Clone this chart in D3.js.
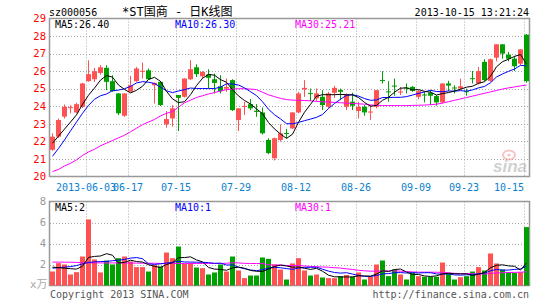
<!DOCTYPE html>
<html>
<head>
<meta charset="utf-8">
<script src="https://cdn.jsdelivr.net/npm/d3@7"></script>
<style>
body { margin: 0; background: #fff; }
svg text { font-family: "DejaVu Sans Mono", monospace; font-size: 10px; }
</style>
</head>
<body>
<svg id="chart" width="545" height="300"></svg>
<script>
// Static data
const dates = [
	'2013-05-24', '2013-05-27', '2013-05-28', '2013-05-29', '2013-05-30', '2013-05-31',
	'2013-06-03', '2013-06-04', '2013-06-05', '2013-06-06', '2013-06-07', '2013-06-13', '2013-06-14',
	'2013-06-17', '2013-06-18', '2013-06-19', '2013-06-20', '2013-06-21', '2013-06-24', '2013-06-25', '2013-06-26',
	'2013-07-15', '2013-07-16', '2013-07-17', '2013-07-18', '2013-07-19', '2013-07-22', '2013-07-23', '2013-07-24', '2013-07-25', '2013-07-26',
	'2013-07-29', '2013-07-30', '2013-07-31', '2013-08-01', '2013-08-02', '2013-08-05', '2013-08-06', '2013-08-07', '2013-08-08', '2013-08-09',
	'2013-08-12', '2013-08-13', '2013-08-14', '2013-08-15', '2013-08-16', '2013-08-19', '2013-08-20', '2013-08-21', '2013-08-22', '2013-08-23',
	'2013-08-26', '2013-08-27', '2013-08-28', '2013-08-29', '2013-08-30', '2013-09-02', '2013-09-03', '2013-09-04', '2013-09-05', '2013-09-06',
	'2013-09-09', '2013-09-10', '2013-09-11', '2013-09-12', '2013-09-13', '2013-09-16', '2013-09-17', '2013-09-18',
	'2013-09-23', '2013-09-24', '2013-09-25', '2013-09-26', '2013-09-27', '2013-09-30',
	'2013-10-09', '2013-10-10', '2013-10-11', '2013-10-14', '2013-10-15'
];

const open = [
	21.52, 22.27, 23.41, 23.90, 23.65, 23.97, 25.43, 25.54, 25.90, 26.19,
	25.43, 24.73, 23.46, 24.82, 25.43, 26.00, 26.05, 25.20, 25.39, 22.97,
	23.31, 24.64, 24.54, 25.54, 26.22, 25.71, 25.81, 25.54, 25.14, 25.00,
	25.49, 23.22, 23.98, 24.12, 23.75, 23.65, 22.08, 21.04, 22.08, 22.48,
	22.74, 23.65, 24.96, 24.75, 24.45, 24.54, 23.97, 24.77, 24.92, 23.97,
	24.26, 23.73, 23.97, 23.66, 23.97, 25.50, 24.85, 25.18, 24.80, 25.07,
	25.11, 24.54, 24.67, 24.77, 24.58, 24.22, 25.30, 25.07, 25.01, 24.86,
	25.60, 25.30, 26.53, 25.45, 26.77, 27.53, 26.94, 26.71, 26.43, 28.08
];
const high = [
	22.46, 23.30, 24.10, 24.05, 24.20, 25.33, 26.62, 26.19, 26.34, 26.34,
	25.77, 24.75, 24.75, 25.73, 26.24, 26.49, 26.15, 25.35, 25.43, 23.73,
	24.07, 24.64, 25.60, 26.62, 26.39, 26.00, 26.11, 25.86, 25.77, 25.58,
	25.54, 23.90, 24.26, 24.41, 24.12, 23.93, 22.18, 22.22, 22.97, 22.71,
	23.66, 24.82, 25.49, 25.01, 25.01, 24.92, 24.82, 25.16, 25.01, 24.73,
	24.77, 24.26, 24.07, 24.07, 24.92, 26.00, 25.43, 25.58, 25.10, 25.30,
	25.15, 24.92, 24.82, 24.92, 24.64, 25.30, 25.45, 25.20, 25.58, 25.00,
	26.01, 26.24, 26.68, 26.72, 27.53, 27.55, 27.10, 26.87, 27.24, 28.11
];
const low = [
	21.46, 22.20, 23.30, 23.60, 23.60, 23.90, 25.40, 25.39, 25.80, 24.92,
	24.82, 23.50, 23.40, 24.82, 25.39, 25.58, 25.52, 24.16, 24.01, 22.78,
	22.84, 22.59, 24.50, 25.49, 25.67, 25.58, 25.01, 24.73, 24.73, 24.82,
	23.73, 22.59, 23.50, 23.78, 23.40, 22.40, 21.27, 20.91, 21.99, 22.18,
	22.70, 23.60, 24.54, 24.30, 24.30, 23.78, 23.90, 24.48, 24.35, 23.78,
	23.78, 23.31, 23.46, 23.22, 23.88, 25.30, 24.26, 24.60, 24.64, 24.73,
	24.82, 24.41, 24.22, 24.07, 24.03, 24.16, 24.86, 24.73, 24.92, 24.60,
	25.30, 25.24, 25.43, 25.39, 26.56, 26.71, 26.56, 26.01, 26.34, 25.35
];
const close = [
	22.27, 23.22, 23.97, 23.95, 24.12, 25.30, 25.83, 26.00, 26.22, 25.39,
	24.86, 23.60, 24.73, 25.20, 26.15, 26.02, 25.54, 25.33, 24.07, 23.27,
	23.88, 24.48, 25.58, 26.11, 25.83, 25.96, 25.62, 25.33, 24.86, 25.10,
	23.78, 23.88, 24.02, 23.88, 23.68, 22.46, 21.33, 22.18, 22.46, 22.42,
	23.65, 24.73, 25.05, 24.70, 24.73, 24.07, 24.73, 25.05, 24.82, 24.64,
	24.03, 23.97, 23.65, 23.70, 24.92, 25.46, 24.80, 25.12, 24.84, 25.03,
	24.88, 24.86, 24.62, 24.60, 24.22, 25.30, 25.18, 25.03, 25.14, 24.80,
	25.55, 26.01, 25.49, 26.68, 27.53, 27.00, 26.71, 26.28, 27.24, 25.43
];

// volume in 万
const volume = [
	1.33, 2.13, 2.00, 1.05, 1.27, 2.76, 6.29, 2.48, 1.24, 2.38,
	2.00, 2.60, 2.76, 2.29, 1.75, 1.75, 1.33, 1.97, 1.81, 3.14,
	2.60, 3.71, 2.06, 2.13, 1.71, 1.65, 1.05, 1.24, 2.00, 1.33,
	2.76, 1.43, 0.70, 0.95, 0.95, 2.67, 2.54, 2.00, 1.52, 0.57,
	2.10, 2.60, 1.43, 0.95, 1.05, 0.76, 0.70, 0.70, 0.89, 1.00,
	0.83, 1.24, 0.57, 0.83, 2.00, 2.38, 0.89, 1.52, 1.05, 0.57,
	1.20, 0.89, 0.83, 0.83, 0.83, 2.19, 1.17, 0.57, 0.79, 0.89,
	1.33, 1.75, 1.43, 3.05, 2.10, 1.52, 1.27, 1.20, 1.27, 5.56
];

const ma5 = [
	21.90, 22.30, 22.70, 23.10, 23.51, 24.11, 24.63, 25.04, 25.49, 25.75,
	25.66, 25.21, 24.96, 24.76, 24.91, 25.14, 25.53, 25.65, 25.42, 24.85,
	24.42, 24.21, 24.26, 24.66, 25.18, 25.59, 25.82, 25.77, 25.52, 25.37,
	24.94, 24.59, 24.33, 24.13, 23.85, 23.58, 23.07, 22.71, 22.42, 22.17,
	22.41, 23.09, 23.66, 24.11, 24.57, 24.66, 24.66, 24.66, 24.68, 24.66,
	24.65, 24.50, 24.22, 24.00, 24.05, 24.34, 24.51, 24.80, 25.03, 25.05,
	24.93, 24.95, 24.85, 24.80, 24.64, 24.72, 24.78, 24.87, 24.97, 25.09,
	25.14, 25.31, 25.40, 25.71, 26.25, 26.54, 26.68, 26.84, 26.95, 26.40
];
const ma10 = [
	21.15, 21.60, 22.08, 22.60, 23.10, 23.60, 24.05, 24.40, 24.60, 24.70,
	24.89, 24.92, 25.00, 25.13, 25.33, 25.40, 25.37, 25.30, 25.09, 24.88,
	24.78, 24.87, 24.95, 25.04, 25.01, 25.01, 25.01, 25.01, 25.09, 25.28,
	25.27, 25.21, 25.05, 24.83, 24.61, 24.26, 23.83, 23.52, 23.28, 23.01,
	23.00, 23.08, 23.18, 23.27, 23.37, 23.53, 23.87, 24.16, 24.40, 24.62,
	24.66, 24.58, 24.44, 24.34, 24.36, 24.50, 24.50, 24.51, 24.51, 24.55,
	24.64, 24.73, 24.82, 24.91, 24.84, 24.83, 24.87, 24.86, 24.89, 24.86,
	24.93, 25.05, 25.13, 25.34, 25.67, 25.84, 25.99, 26.12, 26.33, 26.30
];
const ma30 = [
	20.28, 20.40, 20.60, 20.75, 20.95, 21.20, 21.40, 21.55, 21.75, 21.90,
	22.05, 22.20, 22.35, 22.55, 22.75, 22.95, 23.10, 23.25, 23.45, 23.60,
	23.70, 23.95, 24.20, 24.35, 24.50, 24.60, 24.70, 24.78, 24.87, 24.95,
	24.98, 25.00, 25.00, 24.98, 24.95, 24.80, 24.65, 24.55, 24.45, 24.38,
	24.35, 24.34, 24.33, 24.31, 24.28, 24.26, 24.24, 24.22, 24.20, 24.18,
	24.16, 24.14, 24.12, 24.08, 24.05, 24.04, 24.04, 24.04, 24.04, 24.04,
	24.05, 24.06, 24.07, 24.09, 24.12, 24.18, 24.26, 24.34, 24.42, 24.50,
	24.58, 24.66, 24.74, 24.82, 24.90, 24.98, 25.05, 25.10, 25.16, 25.21
];

const volMa5 = [
	1.75, 1.70, 1.65, 1.60, 1.56, 1.84, 2.67, 2.77, 2.81, 3.03,
	2.88, 2.14, 2.20, 2.41, 2.28, 2.23, 1.98, 1.82, 1.72, 2.00,
	2.17, 2.65, 2.66, 2.73, 2.44, 2.25, 1.72, 1.56, 1.53, 1.45,
	1.68, 1.75, 1.64, 1.43, 1.36, 1.34, 1.56, 1.82, 1.94, 1.86,
	1.75, 1.76, 1.64, 1.53, 1.63, 1.36, 0.98, 0.83, 0.82, 0.81,
	0.82, 0.93, 0.91, 0.89, 1.09, 1.40, 1.33, 1.52, 1.57, 1.28,
	1.05, 1.05, 0.91, 0.86, 0.92, 1.11, 1.17, 1.12, 1.11, 1.12,
	0.95, 1.07, 1.24, 1.69, 1.93, 1.97, 1.87, 1.83, 1.47, 2.16
];
const volMa10 = [
	1.65, 1.70, 1.75, 1.80, 1.90, 2.05, 2.20, 2.25, 2.28, 2.29,
	2.36, 2.41, 2.48, 2.61, 2.66, 2.55, 2.06, 2.01, 2.06, 2.14,
	2.20, 2.31, 2.24, 2.23, 2.22, 2.21, 2.18, 2.11, 2.13, 1.95,
	1.96, 1.74, 1.60, 1.48, 1.41, 1.51, 1.66, 1.73, 1.69, 1.61,
	1.54, 1.66, 1.73, 1.73, 1.74, 1.55, 1.37, 1.24, 1.18, 1.22,
	1.09, 0.96, 0.87, 0.86, 0.95, 1.11, 1.13, 1.22, 1.23, 1.19,
	1.23, 1.19, 1.22, 1.22, 1.10, 1.08, 1.11, 1.01, 0.99, 1.02,
	1.03, 1.12, 1.18, 1.40, 1.53, 1.46, 1.47, 1.53, 1.58, 1.84
];
const volMa30 = [
	2.23, 2.23, 2.22, 2.22, 2.20, 2.16, 2.16, 2.16, 2.15, 2.15,
	2.15, 2.15, 2.14, 2.14, 2.13, 2.13, 2.12, 2.12, 2.10, 2.10,
	2.10, 2.10, 2.10, 2.10, 2.10, 2.10, 2.10, 2.10, 2.10, 2.12,
	2.17, 2.15, 2.11, 2.10, 2.09, 2.09, 1.97, 1.95, 1.96, 1.90,
	1.90, 1.90, 1.86, 1.81, 1.79, 1.76, 1.74, 1.69, 1.66, 1.59,
	1.53, 1.45, 1.40, 1.36, 1.37, 1.39, 1.39, 1.40, 1.36, 1.34,
	1.29, 1.27, 1.27, 1.27, 1.26, 1.25, 1.20, 1.16, 1.13, 1.14,
	1.12, 1.09, 1.09, 1.16, 1.19, 1.22, 1.24, 1.25, 1.27, 1.30
];

const priceTicks = [21, 22, 23, 24, 25, 26, 27, 28];
const priceLabels = [20, 21, 22, 23, 24, 25, 26, 27, 28, 29];
const volTicks = [2, 4, 6];
const volLabels = [2, 4, 6, 8];
const dateTicks = ['2013-06-03', '2013-06-17', '2013-07-15', '2013-07-29', '2013-08-12',
	'2013-08-26', '2013-09-09', '2013-09-23', '2013-10-15'];

const maNames = ['MA5', 'MA10', 'MA30'];
const maColors = ['#000000', '#0000ff', '#ff00ff'];
const priceMaText = ['26.40', '26.30', '25.21'];
const volMaText = ['2', '1', '1'];

// layout
const left = 50, right = 529;
const pTop = 18.5, pBottom = 176.5;
const vTop = 201.5, vBottom = 285.5;
const red = '#ff5252', green = '#00a000';

const svg = d3.select('#chart');

const x = d3.scaleBand().domain(dates).range([left, right]).paddingInner(1 / 6);
const bw = x.bandwidth();
const xl = d => Math.round(x(d));
const xc = d => xl(d) + bw / 2;

const yP = d3.scaleLinear().domain([20, 29]).range([pBottom, pTop]);
const yV = d3.scaleLinear().domain([0, 8]).range([vBottom, vTop]);

const rows = dates.map((d, i) => ({
	date: d, o: open[i], h: high[i], l: low[i], c: close[i], v: volume[i],
	up: close[i] >= open[i]
}));

// grids
function grid(g, yScale, ticks, top, bottom) {
	g.selectAll('.hg').data(ticks).enter().append('line')
		.attr('x1', left).attr('x2', right)
		.attr('y1', d => Math.round(yScale(d)) + 0.5)
		.attr('y2', d => Math.round(yScale(d)) + 0.5)
		.attr('stroke', '#a8a8a8').attr('stroke-dasharray', '1,2');
	g.selectAll('.vg').data(dateTicks).enter().append('line')
		.attr('x1', d => xl(d) + 0.5).attr('x2', d => xl(d) + 0.5)
		.attr('y1', top).attr('y2', bottom)
		.attr('stroke', '#a8a8a8').attr('stroke-dasharray', '1,2');
}
grid(svg.append('g'), yP, priceTicks, pTop, pBottom);
grid(svg.append('g'), yV, volTicks, vTop, vBottom);

// frames
[[pTop, pBottom], [vTop, vBottom]].forEach(([t, b]) => {
	svg.append('rect')
		.attr('x', left - 0.5).attr('y', t)
		.attr('width', right - left + 1).attr('height', b - t)
		.attr('fill', 'none').attr('stroke', '#999').attr('stroke-width', 1.5);
});

// sina watermark
const wm = svg.append('g').attr('opacity', 0.45);
wm.append('text')
	.attr('x', 527).attr('y', 172).attr('text-anchor', 'end')
	.style('font-family', 'Liberation Sans, sans-serif')
	.style('font-size', '17px').style('font-weight', 'bold').style('font-style', 'italic')
	.attr('fill', '#999').text('sina');
wm.append('ellipse').attr('cx', 509).attr('cy', 155).attr('rx', 6).attr('ry', 4.5)
	.attr('fill', 'none').attr('stroke', '#f08080').attr('stroke-width', 2);
wm.append('circle').attr('cx', 509).attr('cy', 155).attr('r', 1.6).attr('fill', '#f08080');

// candles
const candle = svg.append('g').selectAll('g').data(rows).enter().append('g');
candle.append('line')
	.attr('x1', d => xc(d.date)).attr('x2', d => xc(d.date))
	.attr('y1', d => yP(d.h)).attr('y2', d => yP(d.l))
	.attr('stroke', d => d.up ? red : green);
candle.append('rect')
	.attr('x', d => xl(d.date)).attr('width', bw)
	.attr('y', d => yP(Math.max(d.o, d.c)))
	.attr('height', d => Math.max(1, Math.abs(yP(d.o) - yP(d.c))))
	.attr('fill', d => d.up ? red : green);

// volume bars
svg.append('g').selectAll('rect').data(rows).enter().append('rect')
	.attr('x', d => xl(d.date)).attr('width', bw)
	.attr('y', d => yV(d.v)).attr('height', d => yV(0) - yV(d.v))
	.attr('fill', d => d.up ? red : green);

// moving averages
function maLine(values, yScale, color) {
	const line = d3.line().x((d, i) => xc(dates[i])).y(d => yScale(d));
	svg.append('path').datum(values)
		.attr('d', line).attr('fill', 'none')
		.attr('stroke', color).attr('stroke-width', 1);
}
[ma30, ma10, ma5].forEach((s, i) => maLine(s, yP, maColors[2 - i]));
[volMa30, volMa10, volMa5].forEach((s, i) => maLine(s, yV, maColors[2 - i]));

// MA labels
const maX = [55, 175, 295];
maNames.forEach((n, i) => {
	svg.append('text').attr('x', maX[i]).attr('y', 24).attr('dy', '0.35em')
		.attr('fill', maColors[i]).text(n + ':' + priceMaText[i]);
	svg.append('text').attr('x', maX[i]).attr('y', 207).attr('dy', '0.35em')
		.attr('fill', maColors[i]).text(n + ':' + volMaText[i]);
});

// y labels
svg.append('g').selectAll('text').data(priceLabels).enter().append('text')
	.attr('x', 46).attr('y', d => yP(d)).attr('dy', '0.35em')
	.attr('text-anchor', 'end').attr('fill', '#ff0000')
	.style('font-size', '10.5px').text(d => d);
svg.append('g').selectAll('text').data(volLabels).enter().append('text')
	.attr('x', 46).attr('y', d => yV(d)).attr('dy', '0.35em')
	.attr('text-anchor', 'end').attr('fill', '#999')
	.style('font-size', '10.5px').text(d => d);

// x labels (first two overlap slightly, as in the original)
svg.append('g').selectAll('text').data(dateTicks).enter().append('text')
	.attr('x', d => xl(d))
	.attr('y', 187).attr('dy', '0.35em')
	.attr('text-anchor', (d, i) => i === dateTicks.length - 1 ? 'end' : 'middle')
	.attr('fill', '#0a7fd0')
	.text((d, i) => i === 0 ? d : d.slice(5));

// header and footer
svg.append('text').attr('x', 49).attr('y', 12).attr('dy', '0.35em')
	.text('sz000056');
svg.append('text').attr('x', 122).attr('y', 12).attr('dy', '0.35em')
	.style('font-family', '"DejaVu Sans Mono", "Noto Sans CJK SC"').style('font-size', '12px')
	.text('*ST国商 - 日K线图');
svg.append('text').attr('x', 529).attr('y', 12).attr('dy', '0.35em')
	.attr('text-anchor', 'end').text('2013-10-15 13:21:24');

svg.append('text').attr('x', 30).attr('y', 284).attr('dy', '0.35em')
	.style('font-family', '"DejaVu Sans", "Noto Sans CJK SC"').style('font-size', '11px')
	.attr('fill', '#aaa').text('x万');
svg.append('text').attr('x', 50).attr('y', 294).attr('dy', '0.35em')
	.attr('fill', '#555').text('Copyright 2013 SINA.COM');
svg.append('text').attr('x', 529).attr('y', 294).attr('dy', '0.35em')
	.attr('text-anchor', 'end').attr('fill', '#555')
	.text('http://finance.sina.com.cn');
</script>
</body>
</html>
